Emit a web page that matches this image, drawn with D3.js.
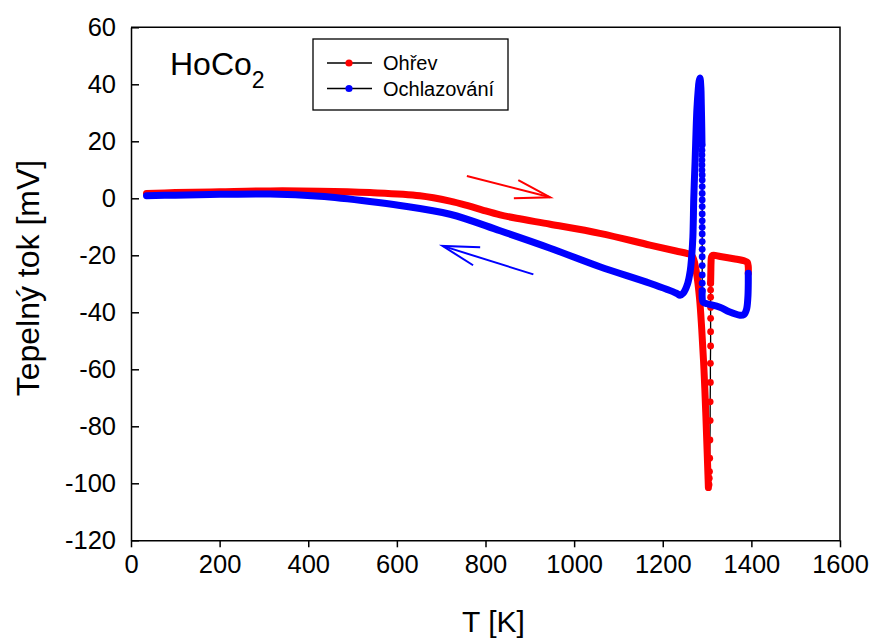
<!DOCTYPE html>
<html lang="en">
<head>
<meta charset="UTF-8">
<title>HoCo2 - tepelny tok</title>
<script src="https://cdnjs.cloudflare.com/ajax/libs/d3/7.8.5/d3.min.js"></script>
<style>
  body { margin: 0; background: #fff; }
  svg { display: block; font-family: Arial, "Liberation Sans", sans-serif; }
  .axis text { font-size: 25.5px; fill: #000; }
  .axis path, .axis line { stroke: #000; stroke-width: 1.5; }
</style>
</head>
<body>
<svg id="chart" width="871" height="640"></svg>
<script>
// Ohrev (heating), [T in K, heat flow in mV] - densely sampled part
const heatMain = [[35,1.7],[100,2.0],[200,2.3],[314,2.6],[426,2.5],[539,2.0],[652,0.9],
  [720,-1.0],[760,-2.6],[795,-4.2],[833,-5.8],[870,-7.0],[946,-9.1],[1058,-12.3],[1171,-16.4],
  [1230,-18.5],[1254,-19.3],[1265,-20.0],[1270,-21.5],[1276,-26],[1283,-35],[1288,-46],
  [1293,-60],[1297,-75],[1300,-88],[1302,-97],[1303,-101.5]];
// Ohrev - the few points on the fast way back up
const heatSparse = [[1304.5,-100.5],[1305,-98.2],[1305.5,-95.9],[1306,-91.2],[1306.5,-84.8],
  [1307,-78.0],[1307,-71.4],[1307.5,-64.6],[1307.5,-57.9],[1308,-51.8],[1308,-46.8],[1308,-42.1],
  [1308,-38.3],[1308,-34.7],[1308,-32.2],[1308,-29.8]];
const heatTail = [[1308,-29.8],[1308.5,-26],[1309,-22.5],[1310,-20.6],[1313,-20.0],[1330,-20.4],
  [1360,-21.2],[1385,-22.0],[1391,-22.5],[1393,-24],[1393,-26.3]];

// Ochlazovani (cooling)
const coolStart = [[1393,-26.3],[1393,-30],[1392,-35],[1389,-39],[1383,-40.8],[1374,-41],
  [1350,-39.8],[1329,-38.2],[1300,-37],[1291,-36.5],[1289,-35],[1289,-32.4]];
const coolSparse = [[1289,-32.4],[1289,-29.8],[1289,-26.9],[1289,-23.6],[1289,-20.5],[1289,-17.9],
  [1289,-15.2],[1289,-12.5],[1289,-10.2],[1289,-7.9],[1289,-5.5],[1289,-2.9],[1289,-0.6],
  [1289,1.7],[1289,4.1],[1289,6.4],[1289,8.2],[1288.5,9.9],[1288.5,11.7],[1288.5,13.4],
  [1288.5,15.2],[1288.5,16.9],[1288.5,18.7]];
const coolMain = [[1288.5,18.7],[1288,25],[1287,33],[1286,39],[1284,42.2],[1282,41],[1280,38],
  [1277,31],[1273,13],[1270,0],[1268,-13.5],[1265,-21],[1262,-25.5],[1256,-30],[1246,-33.3],
  [1239,-34],[1231,-33.3],[1171,-29.8],[1058,-24],[946,-17.5],[833,-11.4],[720,-5.6],
  [607,-2.5],[539,-1.1],[426,0.7],[314,1.5],[201,1.4],[100,1.1],[35,0.9]];

const xTickValues = [0, 200, 400, 600, 800, 1000, 1200, 1400, 1600];
const yTickValues = [-120, -100, -80, -60, -40, -20, 0, 20, 40, 60];

// direction arrows, in data units
const heatArrow = [[758,7.8],[946,0.35]];
const heatArrowHead = [[874,6.4],[946,0.35],[864,0]];
const coolArrow = [[908,-26.7],[703,-16.7]];
const coolArrowHead = [[788,-17.2],[703,-16.7],[772,-23.5]];

const svg = d3.select("#chart");
const x = d3.scaleLinear().domain([0, 1600]).range([131, 840]);
const y = d3.scaleLinear().domain([-120, 60]).range([540.3, 27.3]);
const plain = d => String(d);

// frame (top + right)
svg.append("path")
  .attr("d", `M${x(0)},${y(60)}H${x(1600)}V${y(-120)}`)
  .attr("fill", "none").attr("stroke", "#000").attr("stroke-width", 1.5);

svg.append("g").attr("class", "axis")
  .attr("transform", `translate(0,${y(-120)})`)
  .call(d3.axisBottom(x).tickValues(xTickValues).tickFormat(plain)
    .tickSize(7).tickSizeOuter(0).tickPadding(8));

svg.append("g").attr("class", "axis")
  .attr("transform", `translate(${x(0)},0)`)
  .call(d3.axisLeft(y).tickValues(yTickValues).tickFormat(plain)
    .tickSize(-8).tickSizeOuter(0).tickPadding(15));

const line = d3.line().x(d => x(d[0])).y(d => y(d[1])).curve(d3.curveCatmullRom.alpha(0.5));

function drawSeries(color, dense, sparse) {
  const g = svg.append("g");
  const all = [].concat(...dense.slice(0, 1), sparse, ...dense.slice(1));
  g.append("path").attr("d", line(all))
    .attr("fill", "none").attr("stroke", "#000").attr("stroke-width", 1.3);
  dense.forEach(seg => {
    g.append("path").attr("d", line(seg))
      .attr("fill", "none").attr("stroke", color).attr("stroke-width", 7)
      .attr("stroke-linecap", "round").attr("stroke-linejoin", "round");
  });
  g.selectAll("circle.pt").data(sparse).join("circle")
    .attr("class", "pt")
    .attr("cx", d => x(d[0])).attr("cy", d => y(d[1])).attr("r", 3.4)
    .attr("fill", color);
}

drawSeries("#ff0000", [heatMain, heatTail], heatSparse);
drawSeries("#0000ff", [coolStart, coolMain], coolSparse);

const arrowLine = d3.line().x(d => x(d[0])).y(d => y(d[1]));
[[heatArrow, heatArrowHead, "#ff0000"], [coolArrow, coolArrowHead, "#0000ff"]].forEach(([shaft, head, c]) => {
  svg.append("path").attr("d", arrowLine(shaft)).attr("fill", "none").attr("stroke", c).attr("stroke-width", 2);
  svg.append("path").attr("d", arrowLine(head)).attr("fill", "none").attr("stroke", c).attr("stroke-width", 2);
});

// sample label
const lab = svg.append("text").attr("x", 170).attr("y", 75).attr("font-size", 32);
lab.append("tspan").text("HoCo");
lab.append("tspan").attr("dy", 13).attr("font-size", 23).text("2");

// legend
const legend = svg.append("g");
legend.append("rect").attr("x", 313).attr("y", 39).attr("width", 195).attr("height", 71)
  .attr("fill", "#fff").attr("stroke", "#000").attr("stroke-width", 1.3);
const legendItems = [["Ohřev", "#ff0000"], ["Ochlazování", "#0000ff"]];
legendItems.forEach(([name, c], i) => {
  const ly = 63 + i * 25.5;
  legend.append("line").attr("x1", 327).attr("x2", 372).attr("y1", ly).attr("y2", ly)
    .attr("stroke", "#000").attr("stroke-width", 1.3);
  legend.append("circle").attr("cx", 349).attr("cy", ly).attr("r", 3.6).attr("fill", c);
  legend.append("text").attr("x", 383).attr("y", ly + 7).attr("font-size", 20).text(name);
});

// axis titles
svg.append("text").attr("x", x(800) + 8).attr("y", 632).attr("text-anchor", "middle")
  .attr("font-size", 30).text("T [K]");
svg.append("text").attr("transform", `translate(39,${y(-28)}) rotate(-90)`)
  .attr("text-anchor", "middle").attr("font-size", 32).text("Tepelný tok [mV]");
</script>
</body>
</html>
